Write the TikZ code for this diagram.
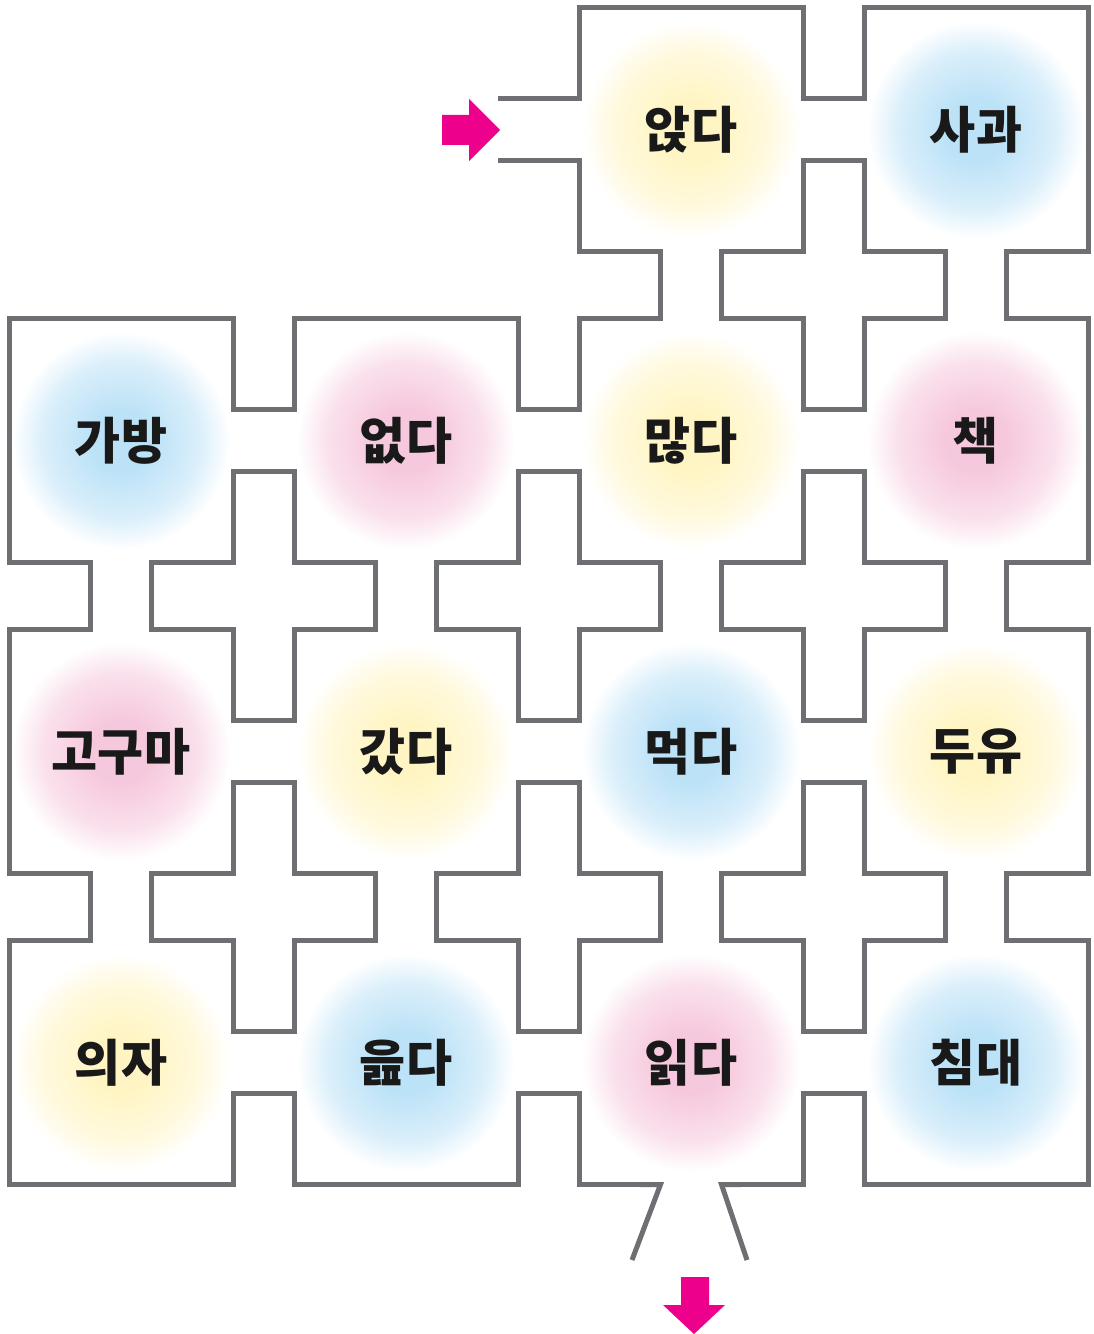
\documentclass[tikz,border=0pt]{standalone}
\usepackage{fontspec}
\newfontfamily\kr{Noto Sans CJK KR}
\definecolor{wallgray}{RGB}{110,111,115}
\definecolor{arrowpink}{RGB}{236,0,140}
\definecolor{gblue}{RGB}{188,226,247}
\definecolor{gpink}{RGB}{246,200,221}
\definecolor{gyellow}{RGB}{255,245,196}
\pgfdeclareradialshading{glowb}{\pgfpoint{0bp}{0bp}}{color(0bp)=(gblue); color(7bp)=(gblue); color(18bp)=(gblue!55!white); color(25bp)=(white); color(50bp)=(white)}
\pgfdeclareradialshading{glowp}{\pgfpoint{0bp}{0bp}}{color(0bp)=(gpink); color(7bp)=(gpink); color(18bp)=(gpink!55!white); color(25bp)=(white); color(50bp)=(white)}
\pgfdeclareradialshading{glowy}{\pgfpoint{0bp}{0bp}}{color(0bp)=(gyellow); color(7bp)=(gyellow); color(18bp)=(gyellow!55!white); color(25bp)=(white); color(50bp)=(white)}
% rooms and the corridors between them, in px (room c/r centre: 285c-164, 311r-181.5)
\newcommand\mazeparts[1]{%
  \foreach \c/\r in {3/1,4/1,1/2,2/2,3/2,4/2,1/3,2/3,3/3,4/3,1/4,2/4,3/4,4/4}
    \path[#1] (285*\c-273.5,311*\r-301) rectangle (285*\c-54.5,311*\r-62);
  \foreach \c/\r in {3/1,1/2,2/2,3/2,1/3,2/3,3/3,1/4,2/4,3/4}
    \path[#1] (285*\c-64,311*\r-210) rectangle (285*\c+21,311*\r-153);
  \foreach \c/\r in {3/1,4/1,1/2,2/2,3/2,4/2,1/3,2/3,3/3,4/3}
    \path[#1] (285*\c-192,311*\r-71.5) rectangle (285*\c-136,311*\r+19.5);
}
\begin{document}
\begin{tikzpicture}[x=0.02cm, y=-0.02cm,
    wall/.style={draw=wallgray, line width=0.2cm},
    thinwall/.style={draw=wallgray, line width=0.1cm},
    word/.style={font=\kr\bfseries\fontsize{28.5}{30}\selectfont, text=black!90, inner sep=0pt}]
  \fill[white] (0,0) rectangle (1093,1334);
  \useasboundingbox (0,0) rectangle (1093,1334);
  % walls: thick outline of all parts, then the inside painted white
  \mazeparts{wall}
  \mazeparts{fill=white}
  % way in and way out
  \fill[white] (575,98.5) rectangle (583,160.5);
  \draw[thinwall] (579,90) -- (579,98.5) -- (498,98.5);
  \draw[thinwall] (579,170) -- (579,160.5) -- (498,160.5);
  \fill[white] (660.5,1180) rectangle (721.5,1189);
  \draw[thinwall] (640,1184.5) -- (660.5,1184.5) -- (632,1260);
  \draw[thinwall] (741,1184.5) -- (721.5,1184.5) -- (747,1260);
  % words
  \foreach \c/\r/\txt/\g in {3/1/앉다/y, 4/1/사과/b,
      1/2/가방/b, 2/2/없다/p, 3/2/많다/y, 4/2/책/p,
      1/3/고구마/p, 2/3/갔다/y, 3/3/먹다/b, 4/3/두유/y,
      1/4/의자/y, 2/4/읊다/b, 3/4/읽다/p, 4/4/침대/b} {
    \shade[shading=glow\g] (285*\c-164,311*\r-181.5) circle (2.18cm);
    \node[word] (room\c\r) at (285*\c-164,311*\r-181.5) {\txt};
  }
  % arrows
  \fill[arrowpink] (442,115) -- (469,115) -- (469,99) -- (500,130) -- (469,161) -- (469,145) -- (442,145) -- cycle;
  \fill[arrowpink] (681,1277) -- (709,1277) -- (709,1305) -- (725,1305) -- (694,1334) -- (663,1305) -- (681,1305) -- cycle;
\end{tikzpicture}
\end{document}
